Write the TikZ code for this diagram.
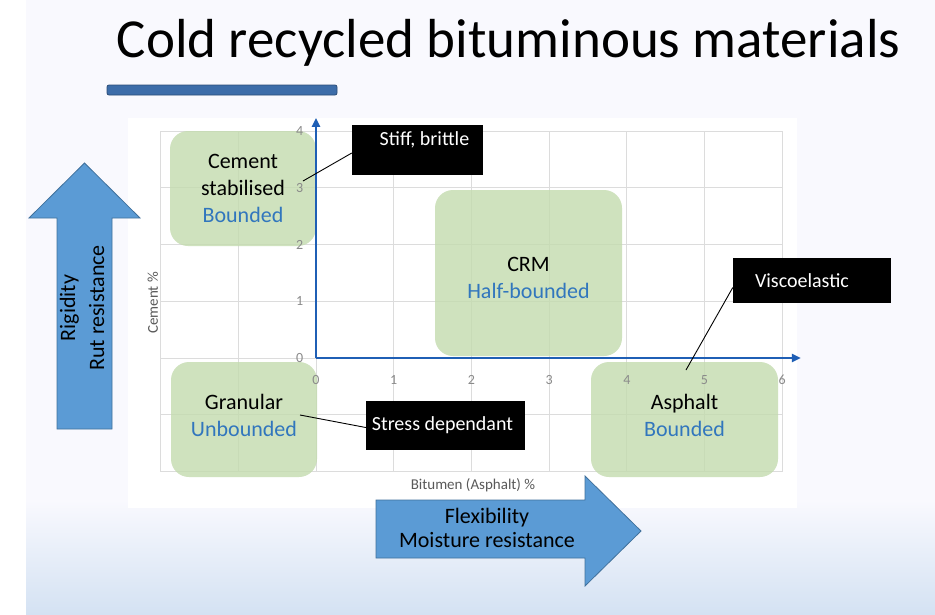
\documentclass[tikz,border=0pt]{standalone}
\usepackage{fontspec}
\setmainfont{Carlito}
\usetikzlibrary{positioning,arrows.meta,calc}
\definecolor{slide}{HTML}{F9F9FE}
\definecolor{slidebottom}{HTML}{D4E2F3}
\definecolor{boxgreen}{HTML}{C3DBAE}
\definecolor{textblue}{HTML}{3176BD}
\definecolor{axisblue}{HTML}{1F5FB5}
\definecolor{arrowblue}{HTML}{5B9BD5}
\definecolor{arrowedge}{HTML}{41719C}
\definecolor{barlight}{HTML}{9CC3EC}
\definecolor{bardark}{HTML}{3D6DA9}
\definecolor{gridgray}{HTML}{DCDCDC}
\definecolor{ticgray}{HTML}{8A8A8A}
\definecolor{labgray}{HTML}{595959}

\begin{document}
\begin{tikzpicture}[x=1pt,y=-1pt,
      zone/.style={rounded corners=18pt, fill=boxgreen, fill opacity=0.8,
                   minimum width=146pt, minimum height=115pt, inner sep=0pt},
      ztext/.style={text opacity=1, fill opacity=1, align=center, inner sep=0pt,
                    font=\fontsize{22}{27}\selectfont},
      tag/.style={fill=black, text=white, inner sep=0pt, font=\fontsize{20}{24}\selectfont},
      lead/.style={black, line width=0.9pt},
      ax/.style={axisblue, line width=2.4pt, -{Triangle[length=9pt,width=8pt]}},
      gridl/.style={gridgray, line width=0.8pt},
      tic/.style={ticgray, font=\fontsize{14}{16}\selectfont},
      big/.style={fill=arrowblue, draw=arrowedge, line width=0.8pt}]
    % slide background
    \useasboundingbox (0,0) rectangle (935,614);
    \fill[white] (0,0) rectangle (935,614);
    \fill[slide] (26,0) rectangle (935,614);
    \shade[top color=slide, bottom color=slidebottom] (26,500) rectangle (935,614);

    \node[anchor=base, font=\fontsize{55}{60}\selectfont] (title) at (508.5,57) {Cold recycled bituminous materials};
    \shade[top color=bardark, middle color=barlight, bottom color=bardark,
           draw=bardark!70!black, line width=0.8pt, rounded corners=2pt] (107,85) rectangle (337,95);

    % chart: grid, ticks and axes
    \fill[white] (128,118) rectangle (797,508);
    \begin{scope}[shift={(316,358)}, x=77.7pt, y=56.75pt]
      \foreach \i in {-2,...,6} \draw[gridl] (\i,-2) -- (\i,4);
      \foreach \j in {-2,...,4} \draw[gridl] (-2,\j) -- (6,\j);
      \node[tic, text=labgray, font=\fontsize{15}{17}\selectfont, rotate=90] (ylab) at (-2.1,0.97) {Cement \%};
      \node[tic, text=labgray, font=\fontsize{15}{17}\selectfont] (xlab) at (2.02,-2.24) {Bitumen (Asphalt) \%};
    \end{scope}

    \node[zone, label={[ztext]center:Cement\\stabilised\\\textcolor{textblue}{Bounded}}] (cem) at (243,188.5) {};
    \node[zone, minimum width=187pt, minimum height=166pt,
          label={[ztext, yshift=-5pt]center:CRM\\\textcolor{textblue}{Half-bounded}}] (crm) at (528.5,273) {};
    \node[zone, label={[ztext, yshift=4pt]center:Granular\\\textcolor{textblue}{Unbounded}}] (gran) at (244,419.5) {};
    \node[zone, minimum width=187pt,
          label={[ztext, yshift=4pt]center:Asphalt\\\textcolor{textblue}{Bounded}}] (asph) at (684.5,419.5) {};

    \begin{scope}[shift={(316,358)}, x=77.7pt, y=56.75pt]
      \foreach \v in {0,...,4} \node[tic] (yt\v) at (-0.21,\v) {\v};
      \foreach \v in {0,...,6} \node[tic] (xt\v) at (\v,-0.39) {\v};
      \coordinate (o) at (0,0);
      \coordinate (xend) at (6.24,0);
      \coordinate (yend) at (0,4.23);
    \end{scope}
    \draw[ax] (o) -- (xend);
    \draw[ax] (o) -- (yend);

    % black tags with leader lines
    \node[tag, minimum width=131pt, minimum height=50pt, text height=14pt, text depth=24pt] (stiff) at (417.5,150) {\hspace*{14pt}Stiff, brittle};
    \node[tag, minimum width=158pt, minimum height=45pt] (visco) at (812,280.5) {Viscoelastic\hspace*{20pt}};
    \node[tag, minimum width=159pt, minimum height=49pt] (stress) at (445.5,425.5) {Stress dependant\hspace*{6pt}};
    \coordinate (p1) at (303,181);
    \coordinate (p2) at (686,370);
    \coordinate (p3) at (300,415);
    \draw[lead] (p1) -- ([yshift=-3pt]stiff.west);
    \draw[lead] (p2) -- ([yshift=-7pt]visco.west);
    \draw[lead] (p3) -- ([yshift=-2pt]stress.west);

    % big block arrows
    \filldraw[big] (57,429) -- (57,218) -- (29,218) -- (84.5,163) -- (140,218) -- (112,218) -- (112,429) -- cycle;
    \node[rotate=90, align=center, font=\fontsize{22}{29}\selectfont] (rig) at (82,308) {Rigidity\\Rut resistance};
    \filldraw[big] (376,500) -- (585,500) -- (585,476) -- (641,531) -- (585,586) -- (585,558) -- (376,558) -- cycle;
    \node[align=center, font=\fontsize{22}{24}\selectfont] (flex) at (487,528) {Flexibility\\Moisture resistance};
  \end{tikzpicture}
\end{document}
